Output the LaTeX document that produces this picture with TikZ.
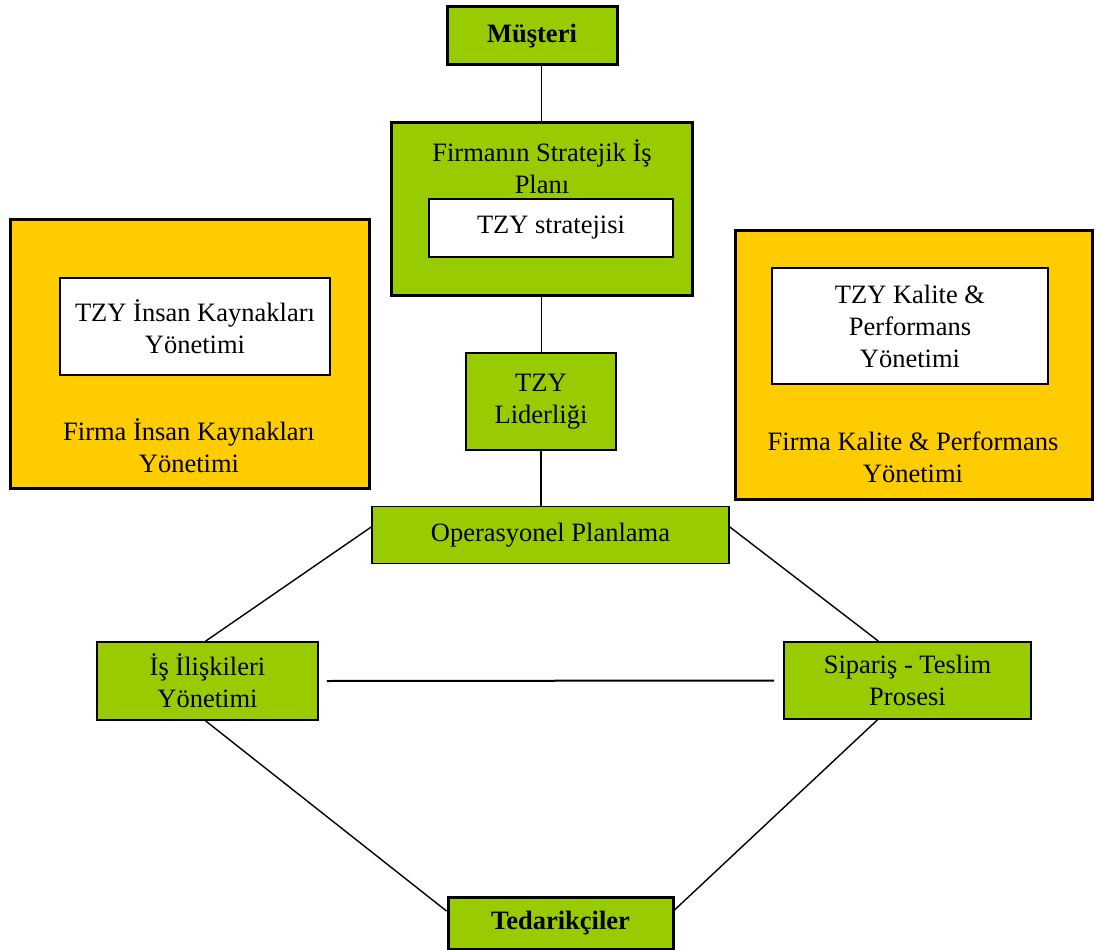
\documentclass[tikz,border=0pt]{standalone}
\usepackage{fontspec}
\setmainfont{Liberation Serif}
\usetikzlibrary{calc}
\definecolor{leaf}{HTML}{99CC00}
\definecolor{amber}{HTML}{FFCC00}
\tikzset{
  txt/.style={font=\fontsize{26.5}{32}\selectfont, align=center, inner sep=0pt},
  box/.style={txt, draw=black, rectangle, anchor=center},
  greenbox/.style={box, fill=leaf, line width=1.6pt},
  heavybox/.style={box, fill=leaf, line width=3pt},
  whitebox/.style={box, fill=white, line width=1.2pt},
  amberbox/.style={box, fill=amber, line width=3pt},
  link/.style={draw=black, line width=1.4pt},
}
\begin{document}
\begin{tikzpicture}[x=1pt, y=-1pt]
\useasboundingbox (0,0) rectangle (1096,950);

% side panels: human resources and quality management
\node[amberbox, minimum width=359pt, minimum height=269pt] (hrout) at (189.5,353.5) {};
\node[whitebox, minimum width=270pt, minimum height=97pt] (hrin) at (195,326.5) {TZY İnsan Kaynakları\\Yönetimi};
\node[txt] (hrcap) at (189,446) {Firma İnsan Kaynakları\\Yönetimi};

\node[amberbox, minimum width=357pt, minimum height=269pt] (qout) at (913.5,364.5) {};
\node[whitebox, minimum width=276pt, minimum height=116pt] (qin) at (910,326) {TZY Kalite \&\\Performans\\Yönetimi};
\node[txt] (qcap) at (913,457.5) {Firma Kalite \& Performans\\Yönetimi};

% central chain
\node[heavybox, minimum width=170pt, minimum height=58pt, font=\fontsize{26.5}{32}\selectfont\bfseries] (musteri) at (532,36) {Müşteri};
\node[heavybox, minimum width=301pt, minimum height=173pt] (firm) at (541.5,208.5) {};
\node[txt] (firmtitle) at (542,167) {Firmanın Stratejik İş\\Planı};
\node[whitebox, minimum width=244pt, minimum height=58pt] (strat) at (551,228) {TZY stratejisi};
\node[box, fill=leaf, line width=2.6pt, minimum width=150pt, minimum height=97pt] (lider) at (541,401.5) {TZY\\Liderliği};
\node[greenbox, minimum width=357pt, minimum height=57pt] (oper) at (550.5,535) {Operasyonel Planlama};
\node[greenbox, minimum width=221pt, minimum height=78pt] (isil) at (207.5,681) {İş İlişkileri\\Yönetimi};
\node[greenbox, minimum width=247pt, minimum height=77pt] (sip) at (907.5,680.5) {Sipariş - Teslim\\Prosesi};
\node[heavybox, minimum width=225pt, minimum height=52pt, font=\fontsize{26.5}{32}\selectfont\bfseries] (ted) at (560.5,923) {Tedarikçiler};

% connectors
\draw[link] (firm.north) -- (firm.north |- musteri.south);
\draw[link] (firm.south) -- (firm.south |- lider.north);
\draw[link] (lider.south) -- (lider.south |- oper.north);
\draw[link] ([yshift=8pt]oper.west) -- ([xshift=-2pt]isil.north);
\draw[link] ([yshift=8pt]oper.east) -- ([xshift=-29pt]sip.north);
\draw[link, line width=2pt] ([xshift=8pt]isil.east) -- ([xshift=-9pt]sip.west);
\draw[link] ([xshift=-2pt]isil.south) -- ([yshift=12pt]ted.west);
\draw[link] ([xshift=-30pt]sip.south) -- ([yshift=13pt]ted.east);
\end{tikzpicture}
\end{document}
